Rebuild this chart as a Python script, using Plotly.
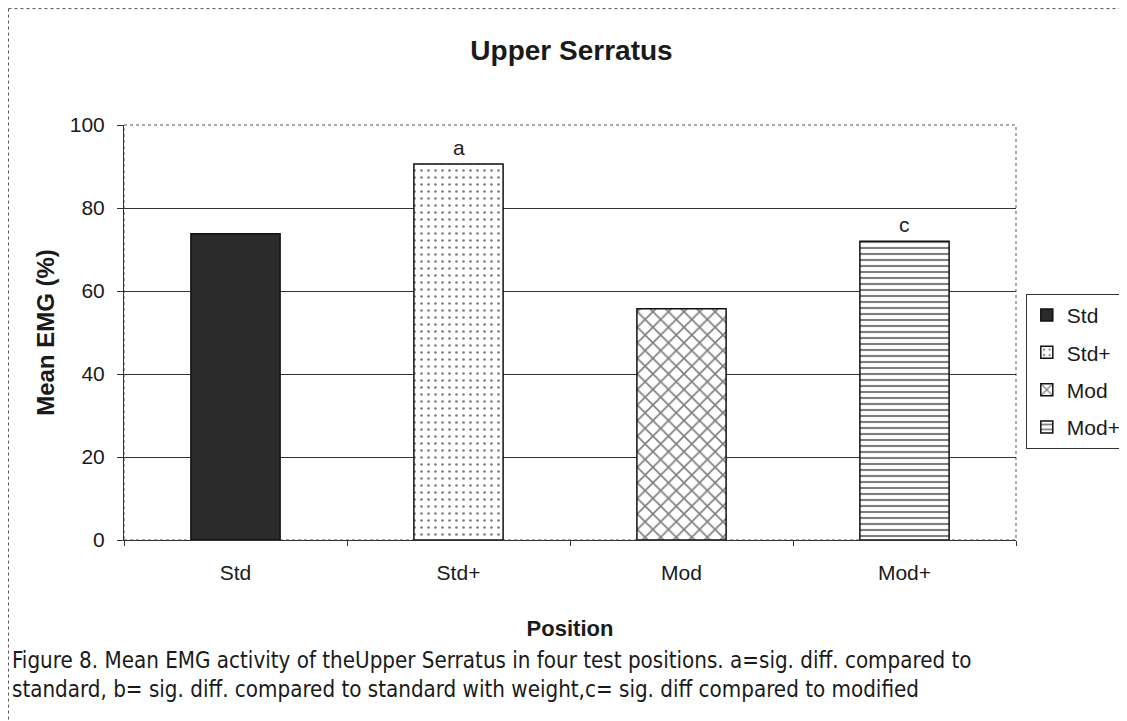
import plotly.graph_objects as go

positions = ['Std', 'Std+', 'Mod', 'Mod+']
mean_emg = [73.8, 90.6, 55.7, 72.0]
sig_labels = ['', 'a', '', 'c']
y_ticks = [0, 20, 40, 60, 80, 100]

patterns = ['', '.', 'x', '-']
fills = ['#2b2b2b', 'white', 'white', 'white']
pat_size = [8, 7, 11, 6]
pat_solid = [0.3, 0.12, 0.28, 0.36]

fig = go.Figure()
for i in range(len(positions)):
    fig.add_trace(go.Bar(x=[positions[i]], y=[mean_emg[i]], name=positions[i],
                         legendgroup=positions[i], width=0.4,
                         marker=dict(color=fills[i],
                                     line=dict(color='#111111', width=1.5),
                                     pattern=dict(shape=patterns[i], fgcolor='#000000',
                                                  bgcolor=fills[i], size=pat_size[i],
                                                  solidity=pat_solid[i]))))

for i in range(len(positions)):
    if sig_labels[i]:
        fig.add_annotation(x=positions[i], y=mean_emg[i], text=sig_labels[i],
                           showarrow=False, yanchor='bottom', yshift=3,
                           font=dict(size=21, color='#222222'))

caption = ('Figure 8. Mean EMG activity of theUpper Serratus in four test positions. a=sig. diff. compared to<br>'
           'standard, b= sig. diff. compared to standard with weight,c= sig. diff compared to modified')
fig.add_annotation(xref='paper', yref='paper', x=-0.128, y=-0.253, xanchor='left', yanchor='top',
                   text=caption, showarrow=False, align='left',
                   font=dict(family='Liberation Sans Narrow, DejaVu Sans Condensed, Liberation Sans, Arial',
                             size=22.2, color='#1a1a1a'))

# outer frame of the figure
fig.add_shape(type='line', xref='paper', yref='paper', x0=-0.1295, x1=1.14, y0=1.2805, y1=1.2805,
              line=dict(color='#555555', width=1, dash='dot'))
fig.add_shape(type='line', xref='paper', yref='paper', x0=-0.1295, x1=-0.1295, y0=1.2805, y1=-0.45,
              line=dict(color='#555555', width=1, dash='dot'))

fig.update_layout(
    width=1127, height=721,
    margin=dict(l=116, r=119, t=117, b=189, pad=0, autoexpand=False),
    paper_bgcolor='white', plot_bgcolor='white',
    font=dict(family='Liberation Sans, Arial', size=21, color='#1a1a1a'),
    title=dict(text='<b>Upper Serratus</b>', x=0.5, xanchor='center', y=0.942, yanchor='middle',
               font=dict(size=28)),
    barmode='group',
    bargap=0.6,
    showlegend=True,
    legend=dict(x=1.011, y=0.593, xanchor='left', yanchor='top',
                bordercolor='#333333', borderwidth=1, font=dict(size=21),
                itemwidth=30, tracegroupgap=7),
    xaxis=dict(title=dict(text='<b>Position</b>', font=dict(size=22), standoff=37),
               showline=True, linecolor='#333333', linewidth=1,
               ticks='outside', ticklen=5, tickcolor='#333333', ticklabelstandoff=14,
               tickson='boundaries', showgrid=False, mirror=False),
    yaxis=dict(title=dict(text='<b>Mean EMG (%)</b>', font=dict(size=24), standoff=8),
               range=[0, 100], tickvals=y_ticks, showline=True, linecolor='#333333',
               linewidth=1, ticks='outside', ticklen=6, tickcolor='#333333', ticklabelstandoff=8,
               showgrid=True, gridcolor='#333333', gridwidth=1, zeroline=False),
)

# dotted right and top frame of the plot area
fig.add_shape(type='rect', xref='paper', yref='paper', x0=0, x1=1, y0=0, y1=1,
              line=dict(color='#555555', width=1, dash='dot'), layer='below')

fig.write_html('out.html')
